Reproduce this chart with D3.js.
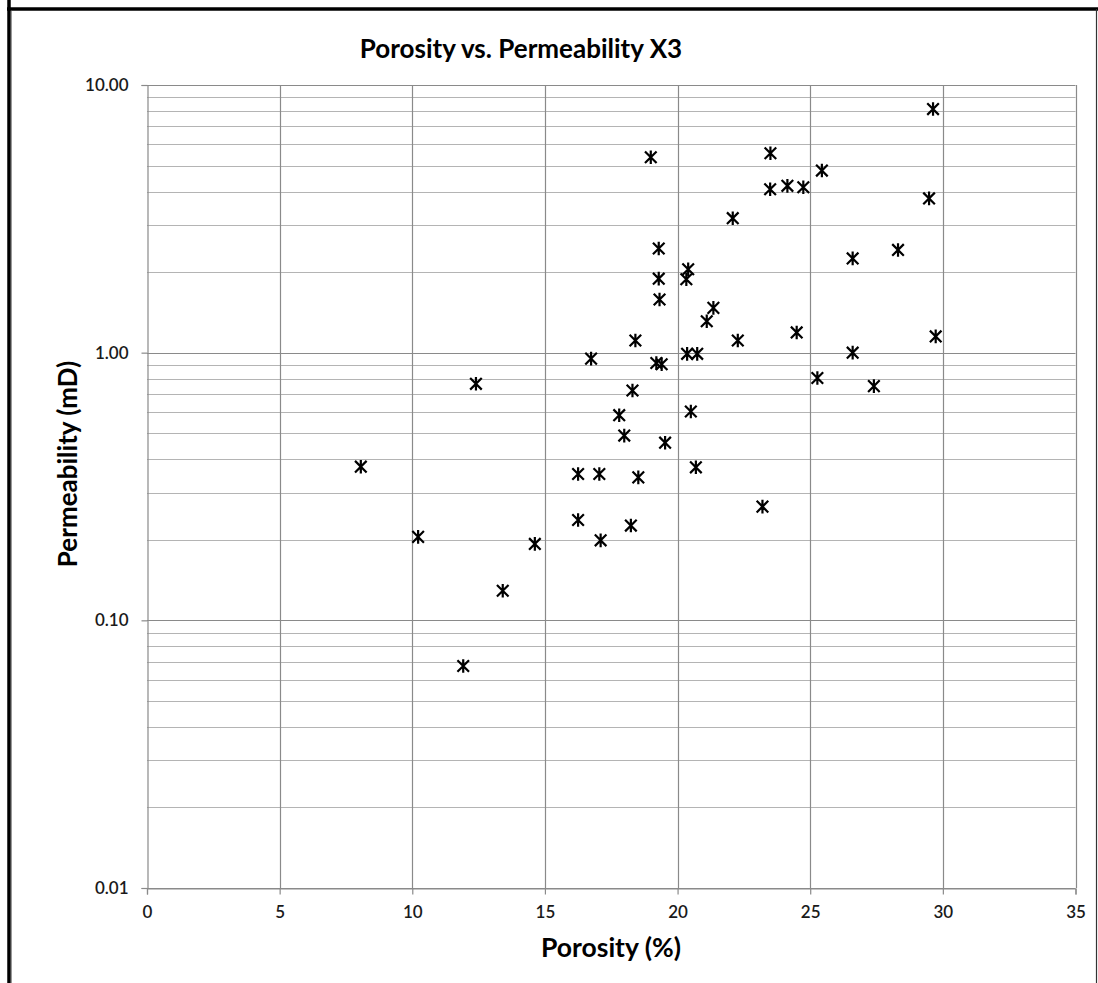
<!DOCTYPE html>
<html>
<head>
<meta charset="utf-8">
<script src="https://cdn.jsdelivr.net/npm/d3@7"></script>
<style>
  html, body { margin: 0; padding: 0; background: #fff; }
  svg { display: block; }
</style>
</head>
<body>
<svg id="chart" width="1098" height="983"></svg>
<script>
// Core sample measurements: porosity (%) and permeability (mD)
const porosity = [
  8.06, 10.22, 11.92, 12.40, 13.41, 14.62, 16.25, 16.25, 16.74, 17.05,
  17.10, 17.80, 17.99, 18.24, 18.30, 18.41, 18.52, 18.99, 19.20, 19.29,
  19.29, 19.32, 19.40, 19.53, 20.33, 20.40, 20.36, 20.50, 20.74, 20.69,
  21.10, 21.35, 22.08, 22.27, 23.20, 23.50, 23.49, 24.14, 24.49, 24.74,
  25.27, 25.44, 26.60, 26.60, 27.40, 28.31, 29.48, 29.63, 29.73
];
const permeability = [
  0.375, 0.205, 0.0675, 0.765, 0.129, 0.193, 0.352, 0.237, 0.95, 0.352,
  0.199, 0.584, 0.49, 0.226, 0.722, 1.11, 0.342, 5.37, 0.915, 2.45,
  1.89, 1.58, 0.905, 0.461, 1.88, 2.05, 0.99, 0.603, 0.99, 0.373,
  1.31, 1.47, 3.18, 1.11, 0.266, 5.56, 4.08, 4.20, 1.19, 4.15,
  0.804, 4.79, 2.25, 1.00, 0.75, 2.42, 3.77, 8.13, 1.15
];

const xTicks = [0, 5, 10, 15, 20, 25, 30, 35];
const yTicks = [0.01, 0.1, 1, 10];
const yMinor = [2, 3, 4, 5, 6, 7, 8, 9];

const titleText = "Porosity vs. Permeability X3";
const xTitle = "Porosity (%)";
const yTitle = "Permeability (mD)";

const points = porosity.map((p, i) => ({ x: p, y: permeability[i] }));

const svg = d3.select("#chart");
const font = "Lato, 'Open Sans', sans-serif";

// outer frame of the chart area
svg.append("line").attr("x1", 9).attr("x2", 9).attr("y1", 0).attr("y2", 983)
  .attr("stroke", "#000").attr("stroke-width", 3.5);
svg.append("line").attr("x1", 7).attr("x2", 1098).attr("y1", 9).attr("y2", 9)
  .attr("stroke", "#000").attr("stroke-width", 3.5);
svg.append("line").attr("x1", 11.5).attr("x2", 11.5).attr("y1", 11).attr("y2", 983)
  .attr("stroke", "#999").attr("stroke-width", 1);
svg.append("line").attr("x1", 1096.5).attr("x2", 1096.5).attr("y1", 9).attr("y2", 983)
  .attr("stroke", "#333").attr("stroke-width", 1.2);

const plot = { left: 147, right: 1075.5, top: 85, bottom: 888 };

const x = d3.scaleLinear().domain([0, 35]).range([plot.left, plot.right]);
const y = d3.scaleLog().domain([0.01, 10]).range([plot.bottom, plot.top]);

// minor horizontal gridlines within each decade
const minorVals = [];
for (let d = 0; d < yTicks.length - 1; d++) {
  yMinor.forEach(m => minorVals.push(yTicks[d] * m));
}
svg.append("g").selectAll("line").data(minorVals).join("line")
  .attr("x1", plot.left).attr("x2", plot.right)
  .attr("y1", d => Math.round(y(d)) + 0.5).attr("y2", d => Math.round(y(d)) + 0.5)
  .attr("stroke", "#b4b4b4").attr("stroke-width", 1.2);

// major horizontal gridlines
svg.append("g").selectAll("line").data(yTicks).join("line")
  .attr("x1", plot.left).attr("x2", plot.right)
  .attr("y1", d => Math.round(y(d)) + 0.5).attr("y2", d => Math.round(y(d)) + 0.5)
  .attr("stroke", "#8a8a8a").attr("stroke-width", 1.2);

// vertical gridlines
svg.append("g").selectAll("line").data(xTicks.slice(1)).join("line")
  .attr("x1", d => Math.round(x(d)) + 0.5).attr("x2", d => Math.round(x(d)) + 0.5)
  .attr("y1", plot.top).attr("y2", plot.bottom)
  .attr("stroke", "#8a8a8a").attr("stroke-width", 1.2);

// axes
const xAxis = d3.axisBottom(x).tickValues(xTicks).tickSize(6).tickPadding(11)
  .tickFormat(d3.format("d"));
const gx = svg.append("g").attr("transform", `translate(0,${Math.round(y(0.01)) + 0.5})`).call(xAxis);

const yAxis = d3.axisLeft(y).tickValues(yTicks).tickSize(6).tickPadding(13)
  .tickFormat(d3.format(".2f"));
const gy = svg.append("g").attr("transform", `translate(${Math.round(x(0)) + 0.5},0)`).call(yAxis);

[gx, gy].forEach(g => {
  g.select(".domain").attr("stroke", "#8a8a8a").attr("stroke-width", 1.2);
  g.selectAll(".tick line").attr("stroke", "#8a8a8a").attr("stroke-width", 1.2);
  g.selectAll(".tick text")
    .attr("font-family", font).attr("font-size", 17).attr("font-weight", 600)
    .attr("fill", "#1a1a1a");
});

// star markers: an X crossed by a vertical stroke
const r = 5.8;
const starPath = `M${-r},${-r}L${r},${r}M${-r},${r}L${r},${-r}M0,${-r - 1}L0,${r + 1}`;
svg.append("g").selectAll("path").data(points).join("path")
  .attr("transform", d => `translate(${x(d.x)},${y(d.y)})`)
  .attr("d", starPath)
  .attr("fill", "none").attr("stroke", "#000").attr("stroke-width", 2.2);

// titles
svg.append("text").attr("x", 521).attr("y", 58).attr("text-anchor", "middle")
  .attr("font-family", font).attr("font-size", 26).attr("font-weight", 700)
  .attr("fill", "#000").text(titleText);

svg.append("text").attr("x", 611).attr("y", 957).attr("text-anchor", "middle")
  .attr("font-family", font).attr("font-size", 26.5).attr("font-weight", 700)
  .attr("fill", "#000").text(xTitle);

svg.append("text").attr("transform", "translate(77,464) rotate(-90)")
  .attr("text-anchor", "middle")
  .attr("font-family", font).attr("font-size", 26).attr("font-weight", 700)
  .attr("fill", "#000").text(yTitle);
</script>
</body>
</html>
